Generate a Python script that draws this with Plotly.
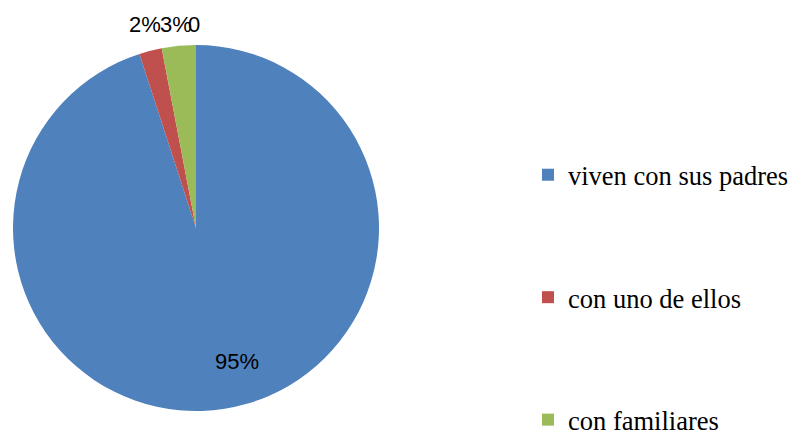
import plotly.graph_objects as go

categories = ["viven con sus padres", "con uno de ellos", "con familiares"]
values = [95, 2, 3]
pct_labels = ["95%", "2%", "3%"]
extra_label = "0"
colors = ["#4F81BD", "#C0504D", "#9BBB59"]

W, H = 793, 432
LEG_X = 528          # legend left edge (px, container); plot area ends here
PW = LEG_X
fig = go.Figure()

fig.add_trace(go.Pie(
    labels=categories,
    values=values,
    textinfo="none",
    sort=False,
    direction="clockwise",
    rotation=0,
    marker=dict(colors=colors, line=dict(width=0)),
    showlegend=False,
    hoverinfo="label+percent",
    domain=dict(x=[13 / PW, 379 / PW], y=[(H - 411) / H, (H - 45) / H]),
))

# legend entries (dummy traces so the legend spacing can match)
for i, (c, col) in enumerate(zip(categories, colors)):
    fig.add_trace(go.Scatter(
        x=[None], y=[None], mode="markers", name=c,
        marker=dict(symbol="square", size=12, color=col, line=dict(width=0)),
        legendgroup=f"g{i}", showlegend=True,
    ))

# data labels (Excel-like placement)
label_font = dict(family="Liberation Sans, Arial, sans-serif", size=22, color="black")
label_pos = [(237, 361), (145, 25), (176, 25)]
for txt, (px, py) in zip(pct_labels, label_pos):
    fig.add_annotation(text=txt, x=px / PW, y=1 - py / H, xref="paper", yref="paper",
                       showarrow=False, font=label_font, xanchor="center", yanchor="middle")
fig.add_annotation(text=extra_label, x=194 / PW, y=1 - 25 / H, xref="paper", yref="paper",
                   showarrow=False, font=label_font, xanchor="center", yanchor="middle")

fig.update_layout(
    width=W, height=H,
    margin=dict(l=0, r=0, t=0, b=0),
    paper_bgcolor="white", plot_bgcolor="white",
    xaxis=dict(visible=False), yaxis=dict(visible=False),
    legend=dict(
        xref="container", yref="container",
        x=LEG_X / W, y=1 - 151 / H, xanchor="left", yanchor="top",
        font=dict(family="Liberation Serif, Times New Roman, serif", size=26.5, color="black"),
        tracegroupgap=85, traceorder="grouped",
        itemwidth=30,
        maxheight=1000,
    ),
)

fig.write_html("out.html")
